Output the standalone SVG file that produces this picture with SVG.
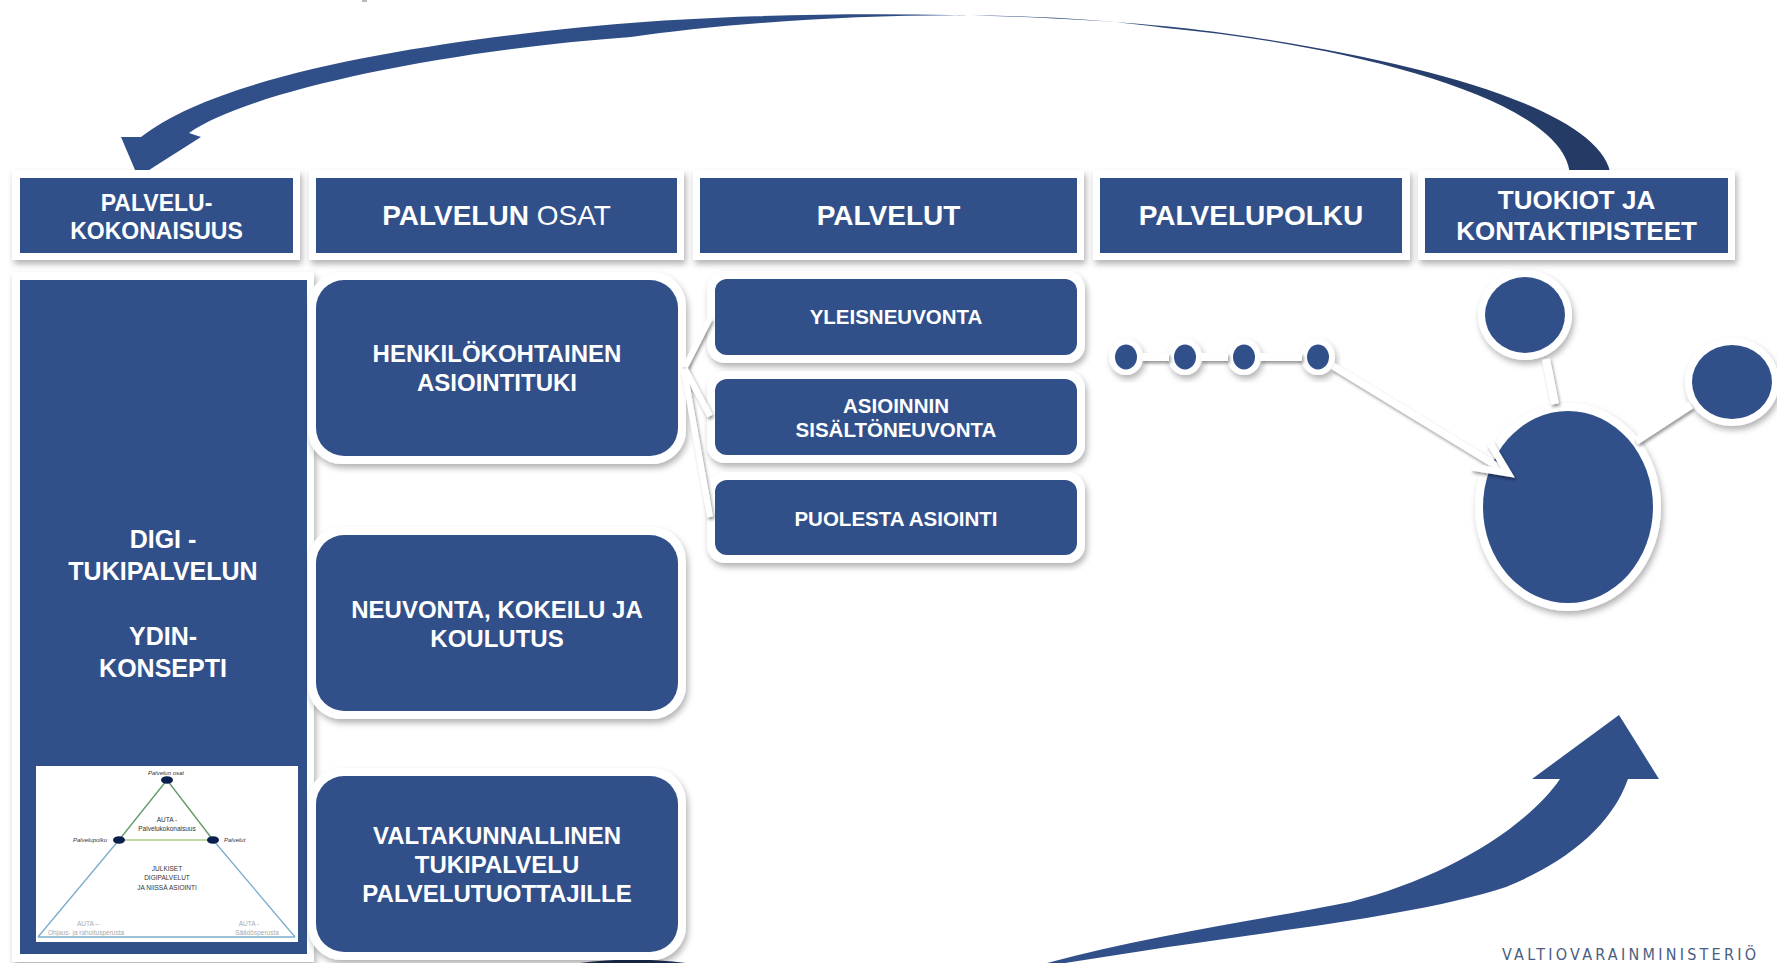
<svg xmlns="http://www.w3.org/2000/svg" width="1777" height="963" viewBox="0 0 1777 963">
<defs>
<filter id="sh" x="-10%" y="-10%" width="125%" height="130%"><feDropShadow dx="2" dy="4" stdDeviation="3" flood-color="#000" flood-opacity="0.3"/></filter>
<filter id="lsh" filterUnits="userSpaceOnUse" x="0" y="0" width="1777" height="963"><feDropShadow dx="1.5" dy="2.5" stdDeviation="1.5" flood-color="#000" flood-opacity="0.4"/></filter>
<linearGradient id="arcTop" gradientUnits="userSpaceOnUse" x1="120" y1="0" x2="1611" y2="0">
<stop offset="0" stop-color="#31508a"/><stop offset="0.5" stop-color="#2e4c84"/><stop offset="1" stop-color="#243a64"/>
</linearGradient>
<style>
.blue{fill:#31508a}
.frame{fill:#fff;filter:url(#sh)}
.t{font-family:"Liberation Sans",Arial,sans-serif;font-weight:bold;fill:#fff;text-anchor:middle}
.hd{font-size:28px}
.hd2{font-size:23px}
.mid{font-size:24px}
.sm{font-size:20.5px}
.col{font-size:25px}
.conn{stroke:#fff;fill:none;filter:url(#lsh)}
.tri{font-family:"Liberation Sans",Arial,sans-serif;font-size:6.5px;fill:#333;text-anchor:middle}
.tric{font-family:"Liberation Sans",Arial,sans-serif;font-size:6.5px;fill:#aaa;text-anchor:middle}
.tl{font-family:"Liberation Sans",Arial,sans-serif;font-size:6px;fill:#333;font-style:italic}
.node{fill:#0b1f4f}
</style>
</defs>
<rect width="1777" height="963" fill="#fff"/>
<rect x="362" y="0" width="5" height="2" fill="#bbb"/>

<g id="arc-top">
<path fill="url(#arcTop)" d="M1611,177 C1605,110 1420,60 1223,33 C1060,10 760,8 574,28 C420,44 220,75 141,137 L121,137 L138,177 L201,137 L189,133 C250,90 450,50 631,37 C760,18 1000,4 1166,28 C1350,45 1570,100 1570,177 Z"/>
</g>
<g id="arc-bottom">
<path fill="#31508a" d="M1047,963 C1150,935 1260,920 1350,902 C1440,880 1525,830 1560,779 L1532,779 L1619,715 L1659,779 L1628,779 C1610,830 1560,865 1506,887 C1420,915 1280,930 1168,947 L1065,963 Z"/>
<path fill="#1d3157" d="M580,963 Q632,956 686,963 Z"/>
</g>

<g id="h-kokonaisuus">
<rect class="frame" x="12" y="170" width="288" height="90"/>
<rect class="blue" x="20" y="178" width="273" height="75"/>
<text class="t hd2" x="156.5" y="211">PALVELU-</text>
<text class="t hd2" x="156.5" y="239">KOKONAISUUS</text>
</g>
<g id="h-osat">
<rect class="frame" x="309" y="170" width="375" height="90"/>
<rect class="blue" x="316" y="178" width="361" height="75"/>
<text class="t hd" x="496.5" y="225">PALVELUN<tspan font-weight="normal"> OSAT</tspan></text>
</g>
<g id="h-palvelut">
<rect class="frame" x="693" y="170" width="391" height="90"/>
<rect class="blue" x="700" y="178" width="377" height="75"/>
<text class="t hd" x="888.5" y="225">PALVELUT</text>
</g>
<g id="h-palvelupolku">
<rect class="frame" x="1093" y="170" width="317" height="90"/>
<rect class="blue" x="1100" y="178" width="302" height="75"/>
<text class="t hd" x="1251" y="225">PALVELUPOLKU</text>
</g>
<g id="h-tuokiot">
<rect class="frame" x="1418" y="170" width="317" height="90"/>
<rect class="blue" x="1425" y="178" width="303" height="75"/>
<text class="t" font-size="26" x="1576.5" y="209">TUOKIOT JA</text>
<text class="t" font-size="26" x="1576.5" y="240">KONTAKTIPISTEET</text>
</g>

<g id="ydin">
<rect class="frame" x="12" y="272" width="302" height="690"/>
<rect class="blue" x="20" y="280" width="287" height="674"/>
<text class="t col" x="163" y="548">DIGI -</text>
<text class="t col" x="163" y="580">TUKIPALVELUN</text>
<text class="t col" x="163" y="645">YDIN-</text>
<text class="t col" x="163" y="677">KONSEPTI</text>
<g id="auta-kuva">
<rect x="36" y="766" width="262" height="176" fill="#fff"/>
<g stroke-width="1.3">
<line x1="119" y1="840" x2="38" y2="937" stroke="#7aaccc"/>
<line x1="213" y1="840" x2="295" y2="937" stroke="#7aaccc"/>
<line x1="38" y1="937" x2="295" y2="937" stroke="#7aaccc"/>
<line x1="167" y1="780" x2="119" y2="840" stroke="#5f9a63"/>
<line x1="167" y1="780" x2="213" y2="840" stroke="#5f9a63"/>
<line x1="119" y1="840" x2="213" y2="840" stroke="#a9d08e"/>
</g>
<ellipse class="node" cx="167" cy="780" rx="6" ry="3.8"/>
<ellipse class="node" cx="119" cy="840" rx="6" ry="3.8"/>
<ellipse class="node" cx="213" cy="840" rx="6" ry="3.8"/>
<text class="tl" x="166" y="775" style="text-anchor:middle">Palvelun osat</text>
<text class="tri" x="167" y="822">AUTA -</text>
<text class="tri" x="167" y="831">Palvelukokonaisuus</text>
<text class="tl" x="107" y="842" style="text-anchor:end">Palvelupolku</text>
<text class="tl" x="224" y="842" style="text-anchor:start">Palvelut</text>
<text class="tri" x="167" y="871">JULKISET</text>
<text class="tri" x="167" y="880">DIGIPALVELUT</text>
<text class="tri" x="167" y="890">JA NIISSÄ ASIOINTI</text>
<text class="tric" x="88" y="926">AUTA –</text>
<text class="tric" x="86" y="935">Ohjaus- ja rahoitusperusta</text>
<text class="tric" x="249" y="926">AUTA -</text>
<text class="tric" x="257" y="935">Säädösperusta</text>
</g>
</g>

<g id="henkilokohtainen">
<rect class="frame" x="308" y="272" width="378" height="192" rx="34"/>
<rect class="blue" x="316" y="280" width="362" height="176" rx="28"/>
<text class="t mid" x="497" y="362">HENKILÖKOHTAINEN</text>
<text class="t mid" x="497" y="391">ASIOINTITUKI</text>
</g>
<g id="neuvonta">
<rect class="frame" x="308" y="527" width="378" height="192" rx="34"/>
<rect class="blue" x="316" y="535" width="362" height="176" rx="28"/>
<text class="t mid" x="497" y="618">NEUVONTA, KOKEILU JA</text>
<text class="t mid" x="497" y="647">KOULUTUS</text>
</g>
<g id="valtakunnallinen">
<rect class="frame" x="308" y="768" width="378" height="192" rx="34"/>
<rect class="blue" x="316" y="776" width="362" height="176" rx="28"/>
<text class="t mid" x="497" y="844">VALTAKUNNALLINEN</text>
<text class="t mid" x="497" y="873">TUKIPALVELU</text>
<text class="t mid" x="497" y="902">PALVELUTUOTTAJILLE</text>
</g>

<g id="yleisneuvonta">
<rect class="frame" x="707" y="271" width="378" height="92" rx="18"/>
<rect class="blue" x="715" y="279" width="362" height="76" rx="12"/>
<text class="t sm" x="896" y="324">YLEISNEUVONTA</text>
</g>
<g id="sisaltoneuvonta">
<rect class="frame" x="707" y="371" width="378" height="92" rx="18"/>
<rect class="blue" x="715" y="379" width="362" height="76" rx="12"/>
<text class="t sm" x="896" y="413">ASIOINNIN</text>
<text class="t sm" x="896" y="437">SISÄLTÖNEUVONTA</text>
</g>
<g id="puolesta">
<rect class="frame" x="707" y="472" width="378" height="91" rx="18"/>
<rect class="blue" x="715" y="480" width="362" height="75" rx="12"/>
<text class="t sm" x="896" y="526">PUOLESTA ASIOINTI</text>
</g>

<g id="polku-pisteet">
<ellipse class="frame" cx="1126" cy="357" rx="17" ry="18"/>
<ellipse class="blue" cx="1126" cy="357" rx="11" ry="12.5"/>
<ellipse class="frame" cx="1185" cy="357" rx="17" ry="18"/>
<ellipse class="blue" cx="1185" cy="357" rx="11" ry="12.5"/>
<ellipse class="frame" cx="1244" cy="357" rx="17" ry="18"/>
<ellipse class="blue" cx="1244" cy="357" rx="11" ry="12.5"/>
<ellipse class="frame" cx="1318" cy="357" rx="17" ry="18"/>
<ellipse class="blue" cx="1318" cy="357" rx="11" ry="12.5"/>
</g>
<g id="kontakti-iso">
<ellipse class="frame" cx="1568" cy="507" rx="93" ry="104"/>
<ellipse class="blue" cx="1568" cy="507" rx="85" ry="96"/>
</g>
<g id="kontakti-yla">
<ellipse class="frame" cx="1525" cy="315" rx="47" ry="45"/>
<ellipse class="blue" cx="1525" cy="315" rx="40" ry="38"/>
</g>
<g id="kontakti-oikea">
<ellipse class="frame" cx="1732" cy="382" rx="47" ry="44"/>
<ellipse class="blue" cx="1732" cy="382" rx="40" ry="37"/>
</g>

<g id="connectors">
<path class="conn" stroke-width="6" d="M685,367 L710,318 M685,369 L710,416 M684,370 L710,517"/>
<path class="conn" stroke-width="8" d="M1142,357 L1169,357 M1201,357 L1228,357 M1260,357 L1302,357"/>
<path class="conn" stroke-width="7" d="M1333,366 L1505,471"/>
<path class="conn" stroke-width="7" stroke-linejoin="miter" d="M1490,443 L1508,473 L1472,467"/>
<path class="conn" stroke-width="8" d="M1546,359 L1555,404"/>
<path class="conn" stroke-width="8" d="M1691,405 L1636,441"/>
</g>

<text x="1502" y="960" font-family="'Liberation Sans Narrow','DejaVu Sans Condensed','Liberation Sans',sans-serif" font-size="16" fill="#4a5d82" textLength="254" lengthAdjust="spacing">VALTIOVARAINMINISTERIÖ</text>
</svg>
